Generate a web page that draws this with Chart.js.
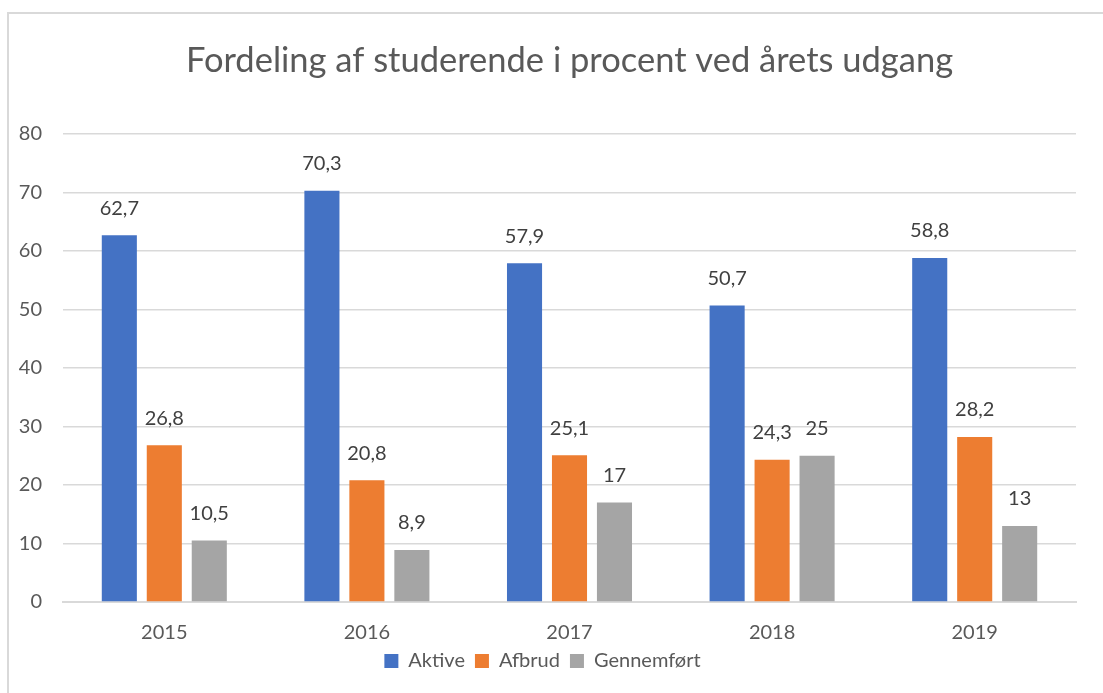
<!DOCTYPE html>
<html>
<head>
<meta charset="utf-8">
<script src="https://cdn.jsdelivr.net/npm/chart.js@4"></script>
<style>
  html, body { margin: 0; padding: 0; background: #fff; overflow: hidden; width: 1103px; height: 693px; }
  #wrap {
    position: absolute; left: 7px; top: 12px;
    border-left: 2px solid #d9d9d9; border-top: 2px solid #d9d9d9;
  }
  #myChart { display: block; }
</style>
</head>
<body>
<div id="wrap"><canvas id="myChart" width="1110" height="700"></canvas></div>
<script>
  const years = ['2015', '2016', '2017', '2018', '2019'];
  const aktive = [62.7, 70.3, 57.9, 50.7, 58.8];
  const afbrud = [26.8, 20.8, 25.1, 24.3, 28.2];
  const gennemfoert = [10.5, 8.9, 17, 25, 13];

  const fontFam = 'Lato, "Liberation Sans", sans-serif';

  // tal over søjlerne, med komma som decimaltegn
  const labelPlugin = {
    id: 'barLabels',
    afterDatasetsDraw(chart) {
      const ctx = chart.ctx;
      ctx.save();
      ctx.font = '20px ' + fontFam;
      ctx.fillStyle = '#404040';
      ctx.textAlign = 'center';
      ctx.textBaseline = 'middle';
      chart.data.datasets.forEach((ds, i) => {
        chart.getDatasetMeta(i).data.forEach((bar, j) => {
          const txt = String(ds.data[j]).replace('.', ',');
          ctx.fillText(txt, bar.x, bar.y - 27);
        });
      });
      ctx.restore();
    }
  };

  const ctx = document.getElementById('myChart').getContext('2d');
  new Chart(ctx, {
    type: 'bar',
    data: {
      labels: years,
      datasets: [
        { label: 'Aktive', data: aktive, backgroundColor: '#4472c4' },
        { label: 'Afbrud', data: afbrud, backgroundColor: '#ed7d31' },
        { label: 'Gennemført', data: gennemfoert, backgroundColor: '#a5a5a5' }
      ]
    },
    options: {
      responsive: false,
      animation: false,
      layout: { padding: { top: 0, right: 43, bottom: 33, left: 0 } },
      categoryPercentage: 0.666,
      barPercentage: 0.78,
      plugins: {
        title: {
          display: true,
          fullSize: false,
          text: 'Fordeling af studerende i procent ved årets udgang',
          color: '#595959',
          font: { family: fontFam, size: 34.5, weight: 'normal' },
          padding: { top: 26, bottom: 52.6 }
        },
        legend: {
          position: 'bottom',
          labels: {
            color: '#595959',
            font: { family: fontFam, size: 20, lineHeight: 1 },
            boxWidth: 14,
            boxHeight: 14,
            padding: 10
          }
        },
        tooltip: { enabled: false }
      },
      scales: {
        x: {
          grid: { display: false, drawTicks: false },
          border: { color: '#d9d9d9', width: 2 },
          ticks: { color: '#595959', font: { family: fontFam, size: 20, lineHeight: 1 }, padding: 21 },
          afterFit(scale) { scale.height = 39; }
        },
        y: {
          min: 0,
          max: 80,
          ticks: { stepSize: 10, color: '#595959', font: { family: fontFam, size: 20 }, padding: 21 },
          grid: { color: '#d9d9d9', lineWidth: 1.5, drawTicks: false },
          border: { display: false },
          afterFit(scale) { scale.width = 54; }
        }
      }
    },
    plugins: [labelPlugin]
  });
</script>
</body>
</html>
